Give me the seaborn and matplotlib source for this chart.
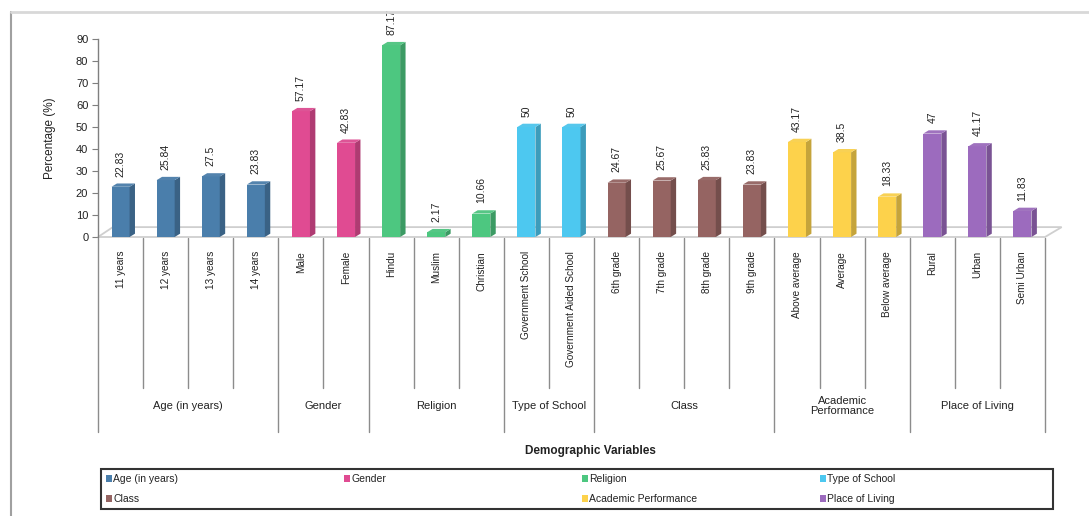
import matplotlib
matplotlib.use("Agg")
import matplotlib.pyplot as plt
import matplotlib.colors as mcolors
from matplotlib.patches import Polygon, Patch, Rectangle
from matplotlib.lines import Line2D
import matplotlib.transforms as mtransforms
import seaborn as sns
import pandas as pd

# ---------------- data ----------------
categories = ["11 years", "12 years", "13 years", "14 years",
              "Male", "Female",
              "Hindu", "Muslim", "Christian",
              "Government School", "Government Aided School",
              "6th grade", "7th grade", "8th grade", "9th grade",
              "Above average", "Average", "Below average",
              "Rural", "Urban", "Semi Urban"]
values = [22.83, 25.84, 27.5, 23.83,
          57.17, 42.83,
          87.17, 2.17, 10.66,
          50, 50,
          24.67, 25.67, 25.83, 23.83,
          43.17, 38.5, 18.33,
          47, 41.17, 11.83]
value_labels = ["22.83", "25.84", "27.5", "23.83",
                "57.17", "42.83",
                "87.17", "2.17", "10.66",
                "50", "50",
                "24.67", "25.67", "25.83", "23.83",
                "43.17", "38.5", "18.33",
                "47", "41.17", "11.83"]
group_names = ["Age (in years)", "Gender", "Religion", "Type of School",
               "Class", "Academic Performance", "Place of Living"]
group_axis_labels = ["Age (in years)", "Gender", "Religion", "Type of School",
                     "Class", "Academic\nPerformance", "Place of Living"]
group_sizes = [4, 2, 3, 2, 4, 3, 3]
group_colors = ["#4A7EAB", "#E04B92", "#4DC780", "#4DC8F0",
                "#956462", "#FDD24B", "#9C6BBE"]
y_ticks = [0, 10, 20, 30, 40, 50, 60, 70, 80, 90]

groups = []
for g, n in zip(group_names, group_sizes):
    groups += [g] * n
df = pd.DataFrame({"category": categories, "value": values, "group": groups})
palette = dict(zip(group_names, group_colors))

# ---------------- figure ----------------
sns.set_theme(style="white")
plt.rcParams["font.family"] = ["Liberation Sans", "DejaVu Sans"]

W, H = 1089, 516
fig = plt.figure(figsize=(W / 100, H / 100), dpi=100)
fig.patch.set_facecolor("white")

ax_l, ax_r, ax_t, ax_b = 98, 1045, 39, 237
ax = fig.add_axes([ax_l / W, 1 - ax_b / H, (ax_r - ax_l) / W, (ax_b - ax_t) / H])

sns.barplot(data=df, x="category", y="value", hue="group", palette=palette,
            order=categories, hue_order=group_names, dodge=False, width=0.4,
            saturation=1, legend=False, ax=ax, zorder=3)

ax.set_xlim(-0.5, len(categories) - 0.5)
ax.set_ylim(0, 90)

# 3D floor
n = len(categories)
floor = Polygon([(-0.5, 0), (n - 0.5, 0), (n - 0.5 + 0.37, 4.5), (-0.5 + 0.33, 4.5)],
                closed=True, facecolor="white", edgecolor="#cfcfcf", lw=1.3,
                zorder=1, clip_on=False)
ax.add_patch(floor)

# 3D side / top faces derived from the bar patches
dx, dy = 0.12, 1.5
bars = [p for p in ax.patches if isinstance(p, Rectangle)
        and p.get_height() == p.get_height() and p.get_height() > 0]
for p in bars:
    x0 = p.get_x()
    w = p.get_width()
    h = p.get_height()
    fc = mcolors.to_rgb(p.get_facecolor())
    side = tuple(c * 0.78 for c in fc)
    top = tuple(min(1, c * 0.92 + 0.06) for c in fc)
    p.set_edgecolor("none")
    ax.add_patch(Polygon([(x0 + w, 0), (x0 + w + dx, dy), (x0 + w + dx, h + dy), (x0 + w, h)],
                         closed=True, facecolor=side, edgecolor="none", zorder=3, clip_on=False))
    ax.add_patch(Polygon([(x0, h), (x0 + w, h), (x0 + w + dx, h + dy), (x0 + dx, h + dy)],
                         closed=True, facecolor=top, edgecolor="none", zorder=3, clip_on=False))

# value labels
for i, (v, lab) in enumerate(zip(values, value_labels)):
    ax.annotate(lab, (i, v + dy), xytext=(0, 5), textcoords="offset points",
                rotation=90, ha="center", va="bottom", fontsize=7.5,
                color="#222222", annotation_clip=False)

# axes styling
for s in ["top", "right", "bottom"]:
    ax.spines[s].set_visible(False)
ax.spines["left"].set_color("#7f7f7f")
ax.spines["left"].set_linewidth(1.0)
ax.set_yticks(y_ticks)
ax.tick_params(axis="y", left=True, length=4, width=0.8, color="#7f7f7f",
               labelsize=8, labelcolor="#222222", pad=3)
ax.set_ylabel("Percentage (%)", fontsize=8.5, color="#222222", labelpad=14)
ax.set_xlabel("")
ax.set_xticks(range(n))
ax.set_xticklabels(categories, rotation=90, fontsize=7.2, color="#222222")
ax.tick_params(axis="x", bottom=False, length=0, pad=10)

# category separators and group labels below the axis
trans = mtransforms.blended_transform_factory(ax.transData, ax.transAxes)
inner_bottom = (ax_b - 388) / (ax_b - ax_t)
group_bottom = (ax_b - 432) / (ax_b - ax_t)
label_y = (ax_b - 406) / (ax_b - ax_t)
boundaries = [0]
for s in group_sizes:
    boundaries.append(boundaries[-1] + s)
for k in range(n + 1):
    yb = group_bottom if k in boundaries else inner_bottom
    ax.add_line(Line2D([k - 0.5, k - 0.5], [-0.005, yb], transform=trans,
                       color="#8c8c8c", lw=1.0, clip_on=False))
for gi, lab in enumerate(group_axis_labels):
    xc = (boundaries[gi] + boundaries[gi + 1] - 1) / 2
    ax.text(xc, label_y, lab, transform=trans, ha="center", va="center",
            fontsize=8, color="#222222", linespacing=1.1, clip_on=False)

# x axis title
fig.text(590 / W, 1 - 451 / H, "Demographic Variables", ha="center", va="center",
         fontsize=8.5, fontweight="bold", color="#222222")

# legend: framed box with four evenly spaced columns (row-major, one empty slot)
box_l, box_r, box_t, box_b = 101, 1053, 469, 509
fig.add_artist(Rectangle((box_l / W, 1 - box_b / H), (box_r - box_l) / W, (box_b - box_t) / H,
                         transform=fig.transFigure, facecolor="none",
                         edgecolor="#333333", lw=1.5))
columns = [[0, 4], [1, None], [2, 5], [3, 6]]
col_w = (box_r - box_l) / 4
for ci, col in enumerate(columns):
    hs, ls = [], []
    for gi in col:
        if gi is None:
            hs.append(Patch(facecolor="none", edgecolor="none"))
            ls.append("")
        else:
            hs.append(Patch(facecolor=group_colors[gi], edgecolor="none"))
            ls.append(group_names[gi])
    leg = fig.legend(hs, ls, loc="upper left",
                     bbox_to_anchor=((box_l + 1 + ci * col_w) / W, 1 - (box_t + 1) / H),
                     fontsize=7.5, frameon=False, borderaxespad=0, borderpad=0.4,
                     handlelength=0.55, handleheight=0.55, handletextpad=0.15,
                     labelspacing=0.95)
    for t in leg.get_texts():
        t.set_color("#222222")

# outer frame lines
fig.add_artist(Line2D([11 / W, 11 / W], [1 - 12 / H, 0], transform=fig.transFigure,
                      color="#a0a0a0", lw=1.5))
fig.add_artist(Line2D([11 / W, 1], [1 - 12 / H, 1 - 12 / H], transform=fig.transFigure,
                      color="#d8d8d8", lw=2.0))

fig.savefig("out.png", dpi=100, facecolor="white")
